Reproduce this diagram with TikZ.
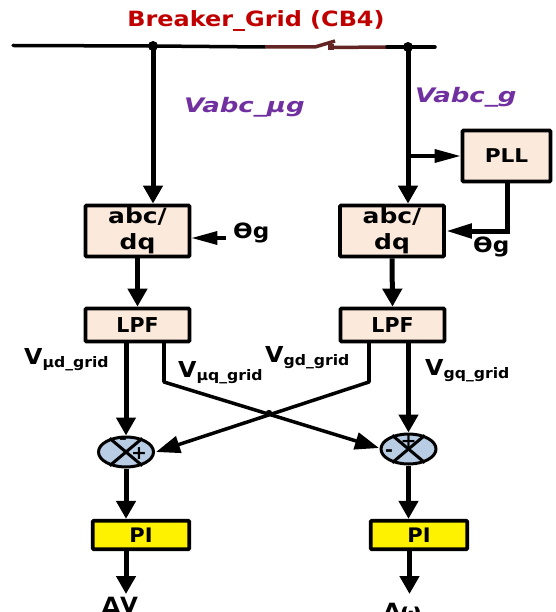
\documentclass[tikz,border=0pt]{standalone}
\usepackage{graphicx}
\usepackage{fontspec}
\setmainfont{DejaVu Sans}
\usetikzlibrary{arrows.meta,shapes.geometric}
\definecolor{boxfill}{HTML}{FBE9DC}
\definecolor{sumfill}{HTML}{B8CCE4}
\definecolor{brk}{HTML}{632523}
\definecolor{lbl}{HTML}{7030A0}
\definecolor{redt}{HTML}{C00000}
\newcommand{\sx}[2]{\scalebox{#1}[1]{#2}}
\newcommand{\abcline}[1]{\raisebox{-3pt}{\sx{1.19}{#1}}}
\tikzset{
  x=1pt,y=-1pt,
  blk/.style={draw=black,line width=3.8pt,rounded corners=1pt,inner sep=0pt,align=center,font=\bfseries\fontsize{19}{24}\selectfont},
  tan/.style={blk,fill=boxfill},
  pibox/.style={blk,fill=yellow,minimum width=96.5pt,minimum height=28.5pt,font=\bfseries\fontsize{20}{24}\selectfont},
  lpfbox/.style={tan,minimum width=104pt,minimum height=33pt,font=\bfseries\fontsize{20.5}{24}\selectfont},
  abcbox/.style={tan,minimum width=104pt,minimum height=51pt,font=\bfseries\fontsize{21}{26}\selectfont},
  sumnode/.style={ellipse,draw=black,fill=sumfill,line width=3pt,minimum width=55pt,minimum height=30pt,inner sep=0pt},
  wire/.style={line width=5pt,draw=black},
  arr/.style={wire,-{Triangle[length=18pt,width=19pt]}},
  thin arr/.style={line width=3.5pt,draw=black,-{Triangle[length=24pt,width=17pt]}},
  lab/.style={font=\bfseries\fontsize{21}{21}\selectfont,text=black,inner sep=0pt},
  sublab/.style={font=\bfseries\fontsize{22}{22}\selectfont,inner sep=0pt,anchor=west},
  vabc/.style={font=\bfseries\itshape\fontsize{20}{20}\selectfont,text=lbl,inner sep=0pt},
  sign/.style={font=\bfseries\fontsize{19}{19}\selectfont,inner sep=0pt},
}
\newcommand{\vsub}[1]{\sx{1.08}{V\raisebox{-3pt}{\fontsize{14.5}{14}\selectfont #1}}}
\begin{document}
\begin{tikzpicture}
\useasboundingbox (0,0) rectangle (555,612);
\clip (0,0) rectangle (555,612);
% junctions and free points of the bus
\coordinate (busL) at (13,45.5);
\coordinate (jL) at (153,46);
\coordinate (brkA) at (265,47);
\coordinate (brkB) at (315,47);
\coordinate (brkC) at (335,41);
\coordinate (brkD) at (331,47.5);
\coordinate (brkE) at (387,47);
\coordinate (jR) at (408,47);
\coordinate (busR) at (435,47);
% blocks
\node[abcbox] (abcL) at (137.5,231) {\abcline{abc/}\\\abcline{dq}};
\node[abcbox] (abcR) at (392,231) {\abcline{abc/}\\\abcline{dq}};
\node[tan,minimum width=88pt,minimum height=51pt] (pll) at (506.5,156) {\sx{1.14}{PLL}};
\node[lpfbox] (lpfL) at (137.5,325) {LPF};
\node[lpfbox] (lpfR) at (392.5,325) {LPF};
\node[sumnode] (sumL) at (126,452) {};
\node[sumnode] (sumR) at (408.5,449) {};
\node[pibox] (piL) at (141,535) {\sx{1.05}{PI}};
\node[pibox] (piR) at (419,535) {\sx{1.05}{PI}};
% bus
\draw[line width=3.5pt,line cap=round] (busL) -- (jL) -- (brkA);
\draw[line width=3.5pt,draw=brk] (brkA) -- (brkB) -- (brkC);
\draw[line width=3.5pt,draw=brk] (brkD) -- (brkE);
\fill[brk] (brkD) ++(-3,-3) rectangle ++(6,6);
\draw[line width=3.5pt,line cap=round] (brkE) -- (busR);
\fill (jL) circle (5);
\fill (jR) circle (5);
% verticals
\draw[arr] (jL) -- (jL |- abcL.north);
\draw[arr] (jR) -- (jR |- abcR.north);
\coordinate (tap) at (408,156);
\draw[line width=3.5pt,-{Triangle[length=26pt,width=13pt]}] (tap) -- (pll.west);
\coordinate (pllturn) at (507,231);
\draw[wire,-{Triangle[length=26pt,width=14pt]}] (pll.south -| pllturn) -- (pllturn) -- (abcR.east |- pllturn);
\coordinate (thL) at (226,238);
\draw[line width=3.5pt,-{Triangle[length=26pt,width=13pt]}] (thL) -- (abcL.east |- thL);
\draw[arr] (abcL.south) -- (lpfL.north);
\draw[arr] (abcR.south) -- (lpfR.north);
% LPF to sums
\draw[arr] (lpfL.south -| sumL) -- (sumL.north);
\draw[arr] (lpfR.south -| sumR) -- (sumR.north);
\coordinate (bendL) at (164,382);
\coordinate (bendR) at (369,382);
\coordinate (inL) at (156,452);
\coordinate (inR) at (379,448);
\draw[thin arr,line join=round] (lpfL.south -| bendL) -- (bendL) -- (inR);
\draw[thin arr,line join=round] (lpfR.south -| bendR) -- (bendR) -- (inL);
\draw[line width=4.5pt] (lpfL.south -| bendL) -- (bendL);
\draw[line width=4.5pt] (lpfR.south -| bendR) -- (bendR);
\coordinate (cross) at (269,413);
\fill (cross) circle (3.2);
% sum crosses
\foreach \s in {sumL,sumR}{
  \draw[line width=3pt] (\s.40) -- (\s.220);
  \draw[line width=3pt] (\s.140) -- (\s.320);
}
\node[sign] (mL) at (123,441) {-};
\node[sign] (pL) at (139,454) {+};
\node[sign] (pR) at (408.5,442) {+};
\node[sign] (mR) at (389,453) {-};
% sum to PI to output
\draw[arr] (sumL.south) -- (sumL.south |- piL.north);
\draw[arr] (sumR.south) -- (sumR.south |- piR.north);
\coordinate (outL) at (126,594);
\coordinate (outR) at (409.5,594);
\draw[arr] (piL.south -| outL) -- (outL);
\draw[arr] (piR.south -| outR) -- (outR);
% labels
\node[font=\bfseries\fontsize{21}{21}\selectfont,text=redt,inner sep=0pt] (title) at (256,21) {\sx{1.14}{Breaker\_Grid (CB4)}};
\node[vabc,anchor=west] (vl) at (184,107) {\sx{1.3}{Vabc\_µg}};
\node[vabc,anchor=west] (vr) at (415,97) {\sx{1.3}{Vabc\_g}};
\node[lab,anchor=west] (tl) at (233,233) {\sx{1.1}{Ɵg}};
\node[lab,anchor=west] (tr) at (473,247) {\sx{1.1}{Ɵg}};
\node[sublab] (d1) at (24,360) {\vsub{µd\_grid}};
\node[sublab] (d2) at (178,373) {\vsub{µq\_grid}};
\node[sublab] (d3) at (265,358) {\vsub{gd\_grid}};
\node[sublab] (d4) at (425,371) {\vsub{gq\_grid}};
\node[lab,anchor=base] (dv) at (120,612.5) {\sx{1.1}{ΔV}};
\node[lab,anchor=base] (dw) at (402,618.5) {\sx{1.1}{Δω}};
\end{tikzpicture}
\end{document}
